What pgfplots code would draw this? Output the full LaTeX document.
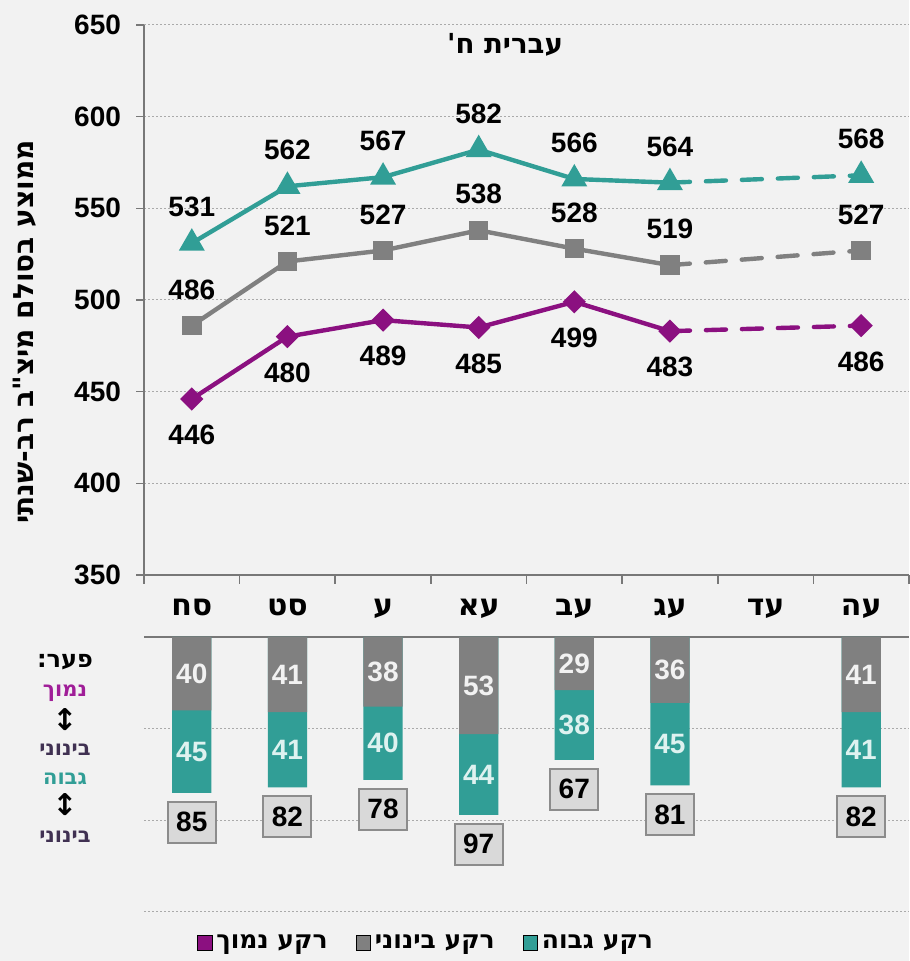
\documentclass[border=0pt]{standalone}
\usepackage{fontspec}
\usepackage{pgfplots}
\pgfplotsset{compat=1.18}
\setmainfont{Liberation Sans}
\newfontfamily\hebfont[Script=Hebrew]{DejaVu Sans}
\newfontfamily\symfont{DejaVu Sans}
\TeXXeTstate=1
\newcommand\heb[1]{{\hebfont\bfseries\beginR #1\endR}}
\definecolor{bg}{RGB}{242,242,242}
\definecolor{cteal}{RGB}{49,158,150}
\definecolor{cgray}{RGB}{128,128,128}
\definecolor{cpurple}{RGB}{139,16,128}
\definecolor{cdark}{RGB}{64,49,82}
\definecolor{cmag}{RGB}{160,30,152}
\definecolor{axcol}{RGB}{120,120,120}
\definecolor{gridcol}{RGB}{170,170,170}
\definecolor{boxfill}{RGB}{217,217,217}
\definecolor{boxdraw}{RGB}{140,140,140}
\definecolor{lteal}{RGB}{222,242,240}
\begin{document}
\begin{tikzpicture}
\fill[bg] (0,0) rectangle (454.5pt,480.5pt);
\pgfplotsset{
  common/.style={
    scale only axis, width=382.5pt,
    xmin=-0.5, xmax=7.5,
    /pgf/number format/assume math mode=true,
    tick label style={font=\fontsize{14}{16}\selectfont\bfseries},
    axis line style={draw=axcol, line width=0.8pt},
    grid style={draw=gridcol, line width=0.5pt, dash pattern=on 1pt off 1pt},
    tick style={draw=axcol, line width=0.8pt},
    tick align=outside,
    major tick length=4pt, minor tick length=4.5pt,
  },
}
% ---------------- upper panel ----------------
\begin{axis}[common,
  at={(72pt,468pt)}, anchor=north west, height=275pt,
  ymin=350, ymax=650, ytick={350,400,...,650},
  axis x line*=bottom, axis y line*=left,
  ymajorgrids,
  xtick={0,...,7},
  xticklabels={\heb{סח},\heb{סט},\heb{ע},\heb{עא},\heb{עב},\heb{עג},\heb{עד},\heb{עה}},
  x tick style={draw=none},
  minor xtick={-0.5,0.5,...,7.5},
  minor x tick style={draw=axcol, line width=0.8pt},
  xticklabel style={yshift=-4.5pt, font=\fontsize{15}{17}\selectfont\bfseries},
  yticklabel style={xshift=-4pt},
  nodes near coords,
  every node near coord/.style={font=\fontsize{14}{16}\selectfont\bfseries, text=black, anchor=center},
]
% high
\addplot[cteal, line width=2.2pt, mark=triangle*, mark size=5.3pt, mark options={solid},
  every node near coord/.append style={yshift=18pt}]
  coordinates {(0,531) (1,562) (2,567) (3,582) (4,566) (5,564)};
\addplot[cteal, line width=2.2pt, dash pattern=on 10pt off 8pt, line cap=round, mark=triangle*, mark size=5.3pt, mark options={solid},
  mark indices={2}, nodes near coords, point meta=explicit symbolic,
  every node near coord/.append style={yshift=18pt}]
  coordinates {(5,564) [] (7,568) [568]};
% mid
\addplot[cgray, line width=2.2pt, mark=square*, mark size=3.8pt, mark options={solid},
  every node near coord/.append style={yshift=18pt}]
  coordinates {(0,486) (1,521) (2,527) (3,538) (4,528) (5,519)};
\addplot[cgray, line width=2.2pt, dash pattern=on 10pt off 8pt, line cap=round, mark=square*, mark size=3.8pt, mark options={solid},
  mark indices={2}, nodes near coords, point meta=explicit symbolic,
  every node near coord/.append style={yshift=18pt}]
  coordinates {(5,519) [] (7,527) [527]};
% low
\addplot[cpurple, line width=2.2pt, mark=square*, mark size=3pt, mark options={solid, rotate=45},
  every node near coord/.append style={yshift=-18pt}]
  coordinates {(0,446) (1,480) (2,489) (3,485) (4,499) (5,483)};
\addplot[cpurple, line width=2.2pt, dash pattern=on 10pt off 8pt, line cap=round, mark=square*, mark size=3pt, mark options={solid, rotate=45},
  mark indices={2}, nodes near coords, point meta=explicit symbolic,
  every node near coord/.append style={yshift=-18pt}]
  coordinates {(5,483) [] (7,486) [486]};
\end{axis}
% ---------------- lower panel ----------------
\begin{axis}[common,
  at={(72pt,162pt)}, anchor=north west, height=137.5pt,
  ymin=-150, ymax=0, ytick={-150,-100,-50},
  axis x line*=top, axis y line*=left,
  y axis line style={draw=none}, y tick style={draw=none}, yticklabels={},
  ymajorgrids,
  xtick=\empty,
  minor xtick={-0.5,0.5,...,7.5},
  minor x tick style={draw=axcol, line width=0.8pt},
  legend style={at={(0.37,-0.113)}, anchor=center, draw=none, fill=none,
    legend columns=3, font=\fontsize{12.5}{14}\selectfont\bfseries,
    /tikz/every even column/.append style={column sep=12pt},
    legend cell align=left},
  legend image code/.code={\fill[#1] (0pt,-3.6pt) rectangle (7.2pt,3.6pt);},
]
% teal: total (drawn full length), gray on top
\addplot[ybar, bar width=0.41, bar shift=0pt, fill=cteal, draw=none, forget plot]
  coordinates {(0,-85) (1,-82) (2,-78) (3,-97) (4,-67) (5,-81) (7,-82)};
\addplot[ybar, bar width=0.41, bar shift=0pt, fill=cgray, draw=none, forget plot]
  coordinates {(0,-40) (1,-41) (2,-38) (3,-53) (4,-29) (5,-36) (7,-41)};
% segment labels
\addplot[draw=none, mark=none, forget plot, nodes near coords, point meta=explicit symbolic,
  every node near coord/.style={font=\fontsize{14}{16}\selectfont\bfseries, text=bg, anchor=center}]
  coordinates {(0,-20) [40] (1,-20.5) [41] (2,-19) [38] (3,-26.5) [53] (4,-14.5) [29] (5,-18) [36] (7,-20.5) [41]};
\addplot[draw=none, mark=none, forget plot, nodes near coords, point meta=explicit symbolic,
  every node near coord/.style={font=\fontsize{14}{16}\selectfont\bfseries, text=lteal, anchor=center}]
  coordinates {(0,-62.5) [45] (1,-61.5) [41] (2,-58) [40] (3,-75) [44] (4,-48) [38] (5,-58.5) [45] (7,-61.5) [41]};
% totals in boxes
\addplot[draw=none, mark=none, forget plot, nodes near coords, point meta=explicit symbolic,
  every node near coord/.style={font=\fontsize{14}{16}\selectfont\bfseries, text=black, anchor=center,
    draw=boxdraw, fill=boxfill, line width=1pt, minimum width=24pt, minimum height=20.5pt, inner sep=0pt}]
  coordinates {(0,-101) [85] (1,-98) [82] (2,-94) [78] (3,-113) [97] (4,-83) [67] (5,-97) [81] (7,-98) [82]};
\addlegendimage{fill=cpurple}
\addlegendentry{\heb{רקע נמוך}}
\addlegendimage{fill=cgray}
\addlegendentry{\heb{רקע בינוני}}
\addlegendimage{fill=cteal}
\addlegendentry{\heb{רקע גבוה}}
\end{axis}
% title, y label, gap annotation
\node[font=\fontsize{13.8}{16}\selectfont\bfseries] at (252.5pt,458pt) {\heb{עברית ח'}};
\node[font=\fontsize{14}{16}\selectfont\bfseries, rotate=90] at (12.5pt,314.5pt) {\heb{ממוצע בסולם מיצ"ב רב-שנתי}};
\node[font=\fontsize{12}{14}\selectfont\bfseries] at (32.5pt,149.5pt) {\heb{פער:}};
\node[font=\fontsize{10.5}{12}\selectfont\bfseries, text=cmag] at (32.5pt,134pt) {\heb{נמוך}};
\node[font=\fontsize{15}{16}\selectfont\symfont\bfseries] at (32.5pt,120.5pt) {↕};
\node[font=\fontsize{10.5}{12}\selectfont\bfseries, text=cdark] at (32.5pt,105.5pt) {\heb{בינוני}};
\node[font=\fontsize{10.5}{12}\selectfont\bfseries, text=cteal] at (32.5pt,91pt) {\heb{גבוה}};
\node[font=\fontsize{15}{16}\selectfont\symfont\bfseries] at (32.5pt,78pt) {↕};
\node[font=\fontsize{10.5}{12}\selectfont\bfseries, text=cdark] at (32.5pt,62pt) {\heb{בינוני}};
\pgfresetboundingbox
\useasboundingbox (0,0) rectangle (454.5pt,480.5pt);
\end{tikzpicture}
\end{document}
